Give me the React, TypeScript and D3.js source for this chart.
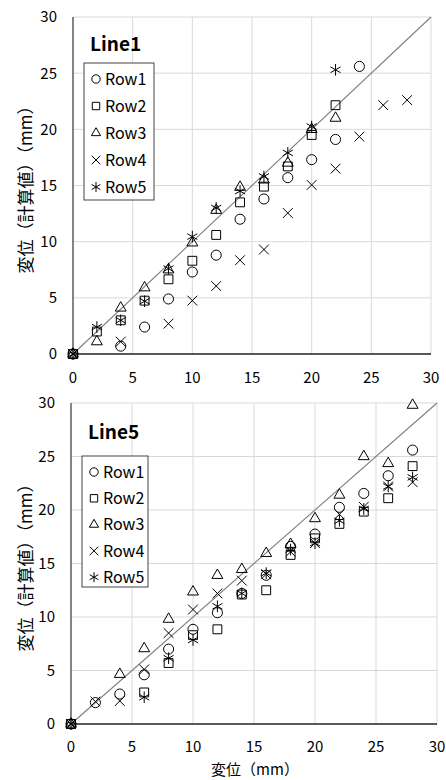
import * as d3 from 'd3'
import { useEffect, useRef } from 'react'

// ---- data ----
const rowNames = ['Row1', 'Row2', 'Row3', 'Row4', 'Row5']
const xTicks = [0, 5, 10, 15, 20, 25, 30]
const yTicks = [0, 5, 10, 15, 20, 25, 30]

// Line1
const l1Row1X = [0, 4, 6, 8, 10, 12, 14, 16, 18, 20, 22, 24]
const l1Row1Y = [0, 0.7, 2.4, 4.9, 7.3, 8.8, 12.0, 13.8, 15.7, 17.3, 19.1, 25.6]
const l1Row2X = [0, 2, 4, 6, 8, 10, 12, 14, 16, 18, 20, 22]
const l1Row2Y = [0, 2.0, 3.0, 4.75, 6.65, 8.3, 10.6, 13.5, 14.9, 16.7, 19.5, 22.15]
const l1Row3X = [0, 2, 4, 6, 8, 10, 12, 14, 16, 18, 20, 22]
const l1Row3Y = [0, 1.1, 4.1, 5.9, 7.5, 9.9, 12.8, 14.85, 15.5, 17.0, 20.0, 21.0]
const l1Row4X = [0, 4, 8, 10, 12, 14, 16, 18, 20, 22, 24, 26, 28]
const l1Row4Y = [0, 1.1, 2.7, 4.75, 6.05, 8.35, 9.3, 12.55, 15.05, 16.5, 19.35, 22.15, 22.6]
const l1Row5X = [0, 2, 4, 6, 8, 10, 12, 14, 16, 18, 20, 22]
const l1Row5Y = [0, 2.4, 3.0, 4.7, 7.6, 10.45, 13.0, 14.5, 15.8, 17.9, 20.25, 25.3]

// Line5
const l5Row1X = [0, 2, 4, 6, 8, 10, 12, 14, 16, 18, 20, 22, 24, 26, 28]
const l5Row1Y = [0, 2.0, 2.8, 4.6, 7.0, 8.85, 10.4, 12.2, 13.9, 16.6, 17.75, 20.25, 21.55, 23.2, 25.6]
const l5Row2X = [0, 6, 8, 10, 12, 14, 16, 18, 20, 22, 24, 26, 28]
const l5Row2Y = [0, 2.95, 5.7, 8.3, 8.85, 12.1, 12.5, 15.8, 17.35, 18.7, 19.85, 21.1, 24.1]
const l5Row3X = [0, 4, 6, 8, 10, 12, 14, 16, 18, 20, 22, 24, 26, 28]
const l5Row3Y = [0, 4.65, 7.05, 9.8, 12.35, 13.9, 14.45, 15.95, 16.8, 19.2, 21.4, 25.0, 24.35, 29.8]
const l5Row4X = [0, 2, 4, 6, 8, 10, 12, 14, 16, 18, 20, 22, 24, 26, 28]
const l5Row4Y = [0, 2.1, 2.15, 5.1, 8.5, 10.7, 12.2, 13.4, 14.0, 16.1, 16.9, 19.6, 20.3, 22.2, 22.6]
const l5Row5X = [0, 6, 8, 10, 12, 14, 16, 18, 20, 22, 24, 26, 28]
const l5Row5Y = [0, 2.5, 6.15, 7.85, 11.0, 12.2, 14.1, 16.3, 16.9, 19.0, 20.1, 22.2, 23.05]

const zip = (xs: number[], ys: number[]) => xs.map((x, i) => ({ x, y: ys[i] }))

const line1 = [
  zip(l1Row1X, l1Row1Y), zip(l1Row2X, l1Row2Y), zip(l1Row3X, l1Row3Y),
  zip(l1Row4X, l1Row4Y), zip(l1Row5X, l1Row5Y),
]
const line5 = [
  zip(l5Row1X, l5Row1Y), zip(l5Row2X, l5Row2Y), zip(l5Row3X, l5Row3Y),
  zip(l5Row4X, l5Row4Y), zip(l5Row5X, l5Row5Y),
]

const symbolTypes = [d3.symbolCircle, d3.symbolSquare2, d3.symbolTriangle2, d3.symbolTimes, d3.symbolAsterisk]
const symbolSizes = [80, 100, 85, 64, 95]
const legendSizes = [55, 70, 60, 50, 70]

const FONT = '"Noto Sans CJK JP", "Liberation Sans", sans-serif'

export default function App() {
  const ref = useRef<SVGSVGElement>(null)

  useEffect(() => {
    const svg = d3.select(ref.current)
    svg.selectAll('*').remove()

    const panels = [
      { title: 'Line1', data: line1, left: 73, right: 431, top: 17, bottom: 354,
        legend: { x: 84, y: 63, w: 70, h: 137, rowH: 27 }, xLabelY: 383, titleY: 51 },
      { title: 'Line5', data: line5, left: 71, right: 437, top: 403, bottom: 724,
        legend: { x: 82, y: 456, w: 66, h: 131, rowH: 26.3 }, xLabelY: 752, titleY: 439 },
    ]

    panels.forEach((p) => {
      const x = d3.scaleLinear().domain([0, 30]).range([p.left, p.right])
      const y = d3.scaleLinear().domain([0, 30]).range([p.bottom, p.top])
      const g = svg.append('g')

      // grid
      g.selectAll('.gx').data(xTicks.slice(1)).join('line')
        .attr('x1', (d) => x(d)).attr('x2', (d) => x(d))
        .attr('y1', p.top).attr('y2', p.bottom)
        .attr('stroke', '#d9d9d9').attr('stroke-width', 1)
      g.selectAll('.gy').data(yTicks.slice(1)).join('line')
        .attr('x1', p.left).attr('x2', p.right)
        .attr('y1', (d) => y(d)).attr('y2', (d) => y(d))
        .attr('stroke', '#d9d9d9').attr('stroke-width', 1)

      // axes
      g.append('line').attr('x1', p.left).attr('x2', p.left).attr('y1', p.top).attr('y2', p.bottom)
        .attr('stroke', '#333').attr('stroke-width', 1.2)
      g.append('line').attr('x1', p.left).attr('x2', p.right).attr('y1', p.bottom).attr('y2', p.bottom)
        .attr('stroke', '#222').attr('stroke-width', 1.4)

      // tick labels
      g.selectAll('.ty').data(yTicks).join('text')
        .attr('x', p.left - 16).attr('y', (d) => y(d)).attr('dy', '0.36em')
        .attr('text-anchor', 'end').attr('font-family', FONT).attr('font-size', 15)
        .attr('fill', '#000').text((d) => d)
      g.selectAll('.tx').data(xTicks).join('text')
        .attr('x', (d) => x(d)).attr('y', p.xLabelY)
        .attr('text-anchor', 'middle').attr('font-family', FONT).attr('font-size', 15)
        .attr('fill', '#000').text((d) => d)

      // y = x reference line
      g.append('path')
        .attr('d', d3.line<number>().x((d) => x(d)).y((d) => y(d))([0, 30]))
        .attr('stroke', '#7f7f7f').attr('stroke-width', 1.1).attr('fill', 'none')

      // markers
      p.data.forEach((series, si) => {
        const sym = d3.symbol().type(symbolTypes[si]).size(symbolSizes[si])
        g.selectAll(null).data(series).join('path')
          .attr('transform', (d) => `translate(${x(d.x)},${y(d.y)})`)
          .attr('d', sym())
          .attr('fill', 'none').attr('stroke', '#000').attr('stroke-width', 1)
      })

      // title
      g.append('text').attr('x', p.left + 17).attr('y', p.titleY)
        .attr('font-family', FONT).attr('font-size', 19).attr('font-weight', 'bold')
        .attr('fill', '#000').text(p.title)

      // legend
      const L = p.legend
      const lg = g.append('g')
      lg.append('rect').attr('x', L.x).attr('y', L.y).attr('width', L.w).attr('height', L.h)
        .attr('fill', '#fff').attr('stroke', '#444').attr('stroke-width', 1)
      rowNames.forEach((name, i) => {
        const cy = L.y + 16 + i * L.rowH
        lg.append('path').attr('transform', `translate(${L.x + 12},${cy})`)
          .attr('d', d3.symbol().type(symbolTypes[i]).size(legendSizes[i])())
          .attr('fill', 'none').attr('stroke', '#000').attr('stroke-width', 1)
        lg.append('text').attr('x', L.x + 21).attr('y', cy).attr('dy', '0.36em')
          .attr('font-family', FONT).attr('font-size', 16).attr('fill', '#000').text(name)
      })

      // y-axis title
      g.append('text')
        .attr('transform', `translate(24,${(p.top + p.bottom) / 2}) rotate(-90)`)
        .attr('text-anchor', 'middle').attr('dominant-baseline', 'central')
        .attr('font-family', FONT).attr('font-size', 17).attr('fill', '#000')
        .text('変位（計算値）（mm）')
    })

    // x-axis title (bottom only)
    svg.append('text').attr('x', 255).attr('y', 775).attr('text-anchor', 'middle')
      .attr('font-family', FONT).attr('font-size', 15).attr('fill', '#000')
      .text('変位（mm）')
  }, [])

  return (
    <svg ref={ref} width={446} height={780}
      style={{ position: 'absolute', left: 0, top: 0, background: '#fff' }} />
  )
}
